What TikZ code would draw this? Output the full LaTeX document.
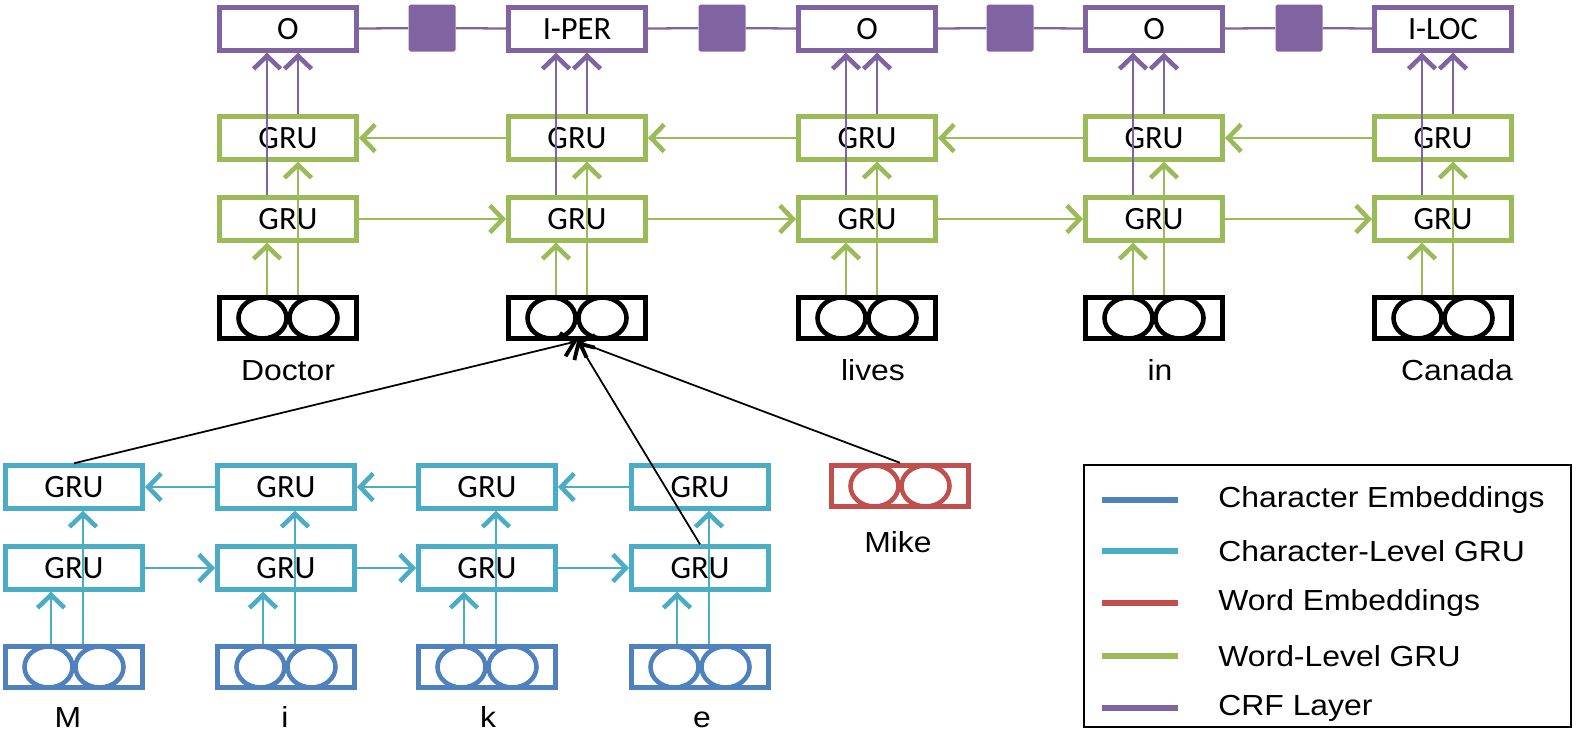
\documentclass[tikz,border=0pt]{standalone}
\usepackage{fontspec}
\setmainfont{Liberation Sans}[FakeStretch=1.1]
\newfontfamily\boxfont{Carlito}
\usetikzlibrary{arrows.meta}
\definecolor{embblue}{HTML}{4F81BD}
\definecolor{charteal}{HTML}{4BACC6}
\definecolor{wordred}{HTML}{C0504D}
\definecolor{wordgreen}{HTML}{9BBB59}
\definecolor{crfpurple}{HTML}{8064A2}
\tikzset{
	cell/.style={draw, line width=2.8pt, minimum width=27.4mm, minimum height=8.5mm,
		inner sep=0pt, font=\boxfont\fontsize{18.5}{22}\selectfont},
	embed/.style={draw=#1, line width=2.8pt, minimum width=27.4mm, minimum height=8.3mm,
		inner sep=0pt, path picture={
			\draw[#1, line width=2.6pt] ([xshift=-5.1mm]path picture bounding box.center) ellipse (4.8mm and 4.1mm);
			\draw[#1, line width=2.6pt] ([xshift=5.1mm]path picture bounding box.center) ellipse (4.8mm and 4.1mm);}},
	factor/.style={fill=crfpurple, minimum size=9.4mm, inner sep=0pt, rounded corners=1pt},
	wordtext/.style={font=\fontsize{16.5}{19}\selectfont, inner sep=0pt},
	tip/.style={-{Straight Barb[length=2.6mm, width=5.4mm, line width=2.6pt]}, line width=1.3pt},
	btip/.style={-{Straight Barb[length=2.4mm, width=4.8mm, line width=2.2pt]}, line width=1pt}
}
\begin{document}
\begin{tikzpicture}[x=0.2mm, y=-0.2mm]
\useasboundingbox (0, 0) rectangle (1577, 738);
% CRF layer
\node[cell, draw=crfpurple] (crf1) at (288, 29) {O};
\node[cell, draw=crfpurple] (crf2) at (577, 29) {I-PER};
\node[cell, draw=crfpurple] (crf3) at (867, 29) {O};
\node[cell, draw=crfpurple] (crf4) at (1154, 29) {O};
\node[cell, draw=crfpurple] (crf5) at (1443, 29) {I-LOC};
\node[factor] (sq1) at (432, 28) {};
\node[factor] (sq2) at (722, 28) {};
\node[factor] (sq3) at (1010, 28) {};
\node[factor] (sq4) at (1299, 28) {};
\draw[crfpurple, line width=1.3pt] (crf1) -- (sq1) -- (crf2) -- (sq2) -- (crf3) -- (sq3) -- (crf4) -- (sq4) -- (crf5);
% word level
\node[cell, draw=wordgreen] (wb1) at (288, 138) {GRU};
\node[cell, draw=wordgreen] (wb2) at (577, 138) {GRU};
\node[cell, draw=wordgreen] (wb3) at (867, 138) {GRU};
\node[cell, draw=wordgreen] (wb4) at (1154, 138) {GRU};
\node[cell, draw=wordgreen] (wb5) at (1443, 138) {GRU};
\node[cell, draw=wordgreen] (wf1) at (288, 219) {GRU};
\node[cell, draw=wordgreen] (wf2) at (577, 219) {GRU};
\node[cell, draw=wordgreen] (wf3) at (867, 219) {GRU};
\node[cell, draw=wordgreen] (wf4) at (1154, 219) {GRU};
\node[cell, draw=wordgreen] (wf5) at (1443, 219) {GRU};
\node[embed=black] (we1) at (288, 318) {};
\node[embed=black] (we2) at (577, 318) {};
\node[embed=black] (we3) at (867, 318) {};
\node[embed=black] (we4) at (1154, 318) {};
\node[embed=black] (we5) at (1443, 318) {};
\node[wordtext, anchor=base] (wl1) at (288, 380) {Doctor};
\node[wordtext, anchor=base] (wl3) at (873, 380) {lives};
\node[wordtext, anchor=base] (wl4) at (1160, 380) {in};
\node[wordtext, anchor=base] (wl5) at (1457, 380) {Canada};
\draw[tip, wordgreen] (wf1) -- (wf2);
\draw[tip, wordgreen] (wf2) -- (wf3);
\draw[tip, wordgreen] (wf3) -- (wf4);
\draw[tip, wordgreen] (wf4) -- (wf5);
\draw[tip, wordgreen] (wb2) -- (wb1);
\draw[tip, wordgreen] (wb3) -- (wb2);
\draw[tip, wordgreen] (wb4) -- (wb3);
\draw[tip, wordgreen] (wb5) -- (wb4);
\draw[tip, wordgreen] ([xshift=-4.2mm]we1.north) -- ([xshift=-4.2mm]wf1.south);
\draw[tip, wordgreen] ([xshift=2mm]we1.north) -- ([xshift=2mm]wb1.south);
\draw[tip, wordgreen] ([xshift=-4.2mm]we2.north) -- ([xshift=-4.2mm]wf2.south);
\draw[tip, wordgreen] ([xshift=2mm]we2.north) -- ([xshift=2mm]wb2.south);
\draw[tip, wordgreen] ([xshift=-4.2mm]we3.north) -- ([xshift=-4.2mm]wf3.south);
\draw[tip, wordgreen] ([xshift=2mm]we3.north) -- ([xshift=2mm]wb3.south);
\draw[tip, wordgreen] ([xshift=-4.2mm]we4.north) -- ([xshift=-4.2mm]wf4.south);
\draw[tip, wordgreen] ([xshift=2mm]we4.north) -- ([xshift=2mm]wb4.south);
\draw[tip, wordgreen] ([xshift=-4.2mm]we5.north) -- ([xshift=-4.2mm]wf5.south);
\draw[tip, wordgreen] ([xshift=2mm]we5.north) -- ([xshift=2mm]wb5.south);
\draw[tip, crfpurple] ([xshift=-4.2mm]wf1.north) -- ([xshift=-4.2mm]crf1.south);
\draw[tip, crfpurple] ([xshift=2mm]wb1.north) -- ([xshift=2mm]crf1.south);
\draw[tip, crfpurple] ([xshift=-4.2mm]wf2.north) -- ([xshift=-4.2mm]crf2.south);
\draw[tip, crfpurple] ([xshift=2mm]wb2.north) -- ([xshift=2mm]crf2.south);
\draw[tip, crfpurple] ([xshift=-4.2mm]wf3.north) -- ([xshift=-4.2mm]crf3.south);
\draw[tip, crfpurple] ([xshift=2mm]wb3.north) -- ([xshift=2mm]crf3.south);
\draw[tip, crfpurple] ([xshift=-4.2mm]wf4.north) -- ([xshift=-4.2mm]crf4.south);
\draw[tip, crfpurple] ([xshift=2mm]wb4.north) -- ([xshift=2mm]crf4.south);
\draw[tip, crfpurple] ([xshift=-4.2mm]wf5.north) -- ([xshift=-4.2mm]crf5.south);
\draw[tip, crfpurple] ([xshift=2mm]wb5.north) -- ([xshift=2mm]crf5.south);
% character level
\node[cell, draw=charteal] (cb1) at (74, 487) {GRU};
\node[cell, draw=charteal] (cb2) at (286, 487) {GRU};
\node[cell, draw=charteal] (cb3) at (487, 487) {GRU};
\node[cell, draw=charteal] (cb4) at (700, 487) {GRU};
\node[cell, draw=charteal] (cf1) at (74, 568) {GRU};
\node[cell, draw=charteal] (cf2) at (286, 568) {GRU};
\node[cell, draw=charteal] (cf3) at (487, 568) {GRU};
\node[cell, draw=charteal] (cf4) at (700, 568) {GRU};
\node[embed=embblue] (ce1) at (74, 667) {};
\node[embed=embblue] (ce2) at (286, 667) {};
\node[embed=embblue] (ce3) at (487, 667) {};
\node[embed=embblue] (ce4) at (700, 667) {};
\node[wordtext, anchor=base] (cl1) at (68, 727) {M};
\node[wordtext, anchor=base] (cl2) at (285, 727) {i};
\node[wordtext, anchor=base] (cl3) at (488, 727) {k};
\node[wordtext, anchor=base] (cl4) at (702, 727) {e};
\draw[tip, charteal] (cf1) -- (cf2);
\draw[tip, charteal] (cf2) -- (cf3);
\draw[tip, charteal] (cf3) -- (cf4);
\draw[tip, charteal] (cb2) -- (cb1);
\draw[tip, charteal] (cb3) -- (cb2);
\draw[tip, charteal] (cb4) -- (cb3);
\draw[tip, charteal] ([xshift=-4.6mm]ce1.north) -- ([xshift=-4.6mm]cf1.south);
\draw[tip, charteal] ([xshift=1.8mm]ce1.north) -- ([xshift=1.8mm]cb1.south);
\draw[tip, charteal] ([xshift=-4.6mm]ce2.north) -- ([xshift=-4.6mm]cf2.south);
\draw[tip, charteal] ([xshift=1.8mm]ce2.north) -- ([xshift=1.8mm]cb2.south);
\draw[tip, charteal] ([xshift=-4.6mm]ce3.north) -- ([xshift=-4.6mm]cf3.south);
\draw[tip, charteal] ([xshift=1.8mm]ce3.north) -- ([xshift=1.8mm]cb3.south);
\draw[tip, charteal] ([xshift=-4.6mm]ce4.north) -- ([xshift=-4.6mm]cf4.south);
\draw[tip, charteal] ([xshift=1.8mm]ce4.north) -- ([xshift=1.8mm]cb4.south);
% word embedding and links
\node[embed=wordred] (mike) at (900, 486) {};
\node[wordtext, anchor=base] (mikel) at (898, 552) {Mike};
\draw[btip] (cb1.north) -- (we2.south);
\draw[btip] (cf4.north) -- (we2.south);
\draw[btip] (mike.north) -- (we2.south);
% legend
\node[draw, line width=0.8pt, minimum width=97.4mm, minimum height=52.4mm] (legend) at (1327.5, 596) {};
\draw[embblue, line width=3.4pt] (1102, 500) -- (1178, 500);
\draw[charteal, line width=3.4pt] (1102, 551) -- (1178, 551);
\draw[wordred, line width=3.4pt] (1102, 603) -- (1178, 603);
\draw[wordgreen, line width=3.4pt] (1102, 656) -- (1178, 656);
\draw[crfpurple, line width=3.4pt] (1102, 708) -- (1178, 708);
\node[wordtext, anchor=west] (leg1) at (1218, 500) {Character Embeddings};
\node[wordtext, anchor=west] (leg2) at (1218, 551) {Character-Level GRU};
\node[wordtext, anchor=west] (leg3) at (1218, 603) {Word Embeddings};
\node[wordtext, anchor=west] (leg4) at (1218, 656) {Word-Level GRU};
\node[wordtext, anchor=west] (leg5) at (1218, 708) {CRF Layer};
\end{tikzpicture}
\end{document}
